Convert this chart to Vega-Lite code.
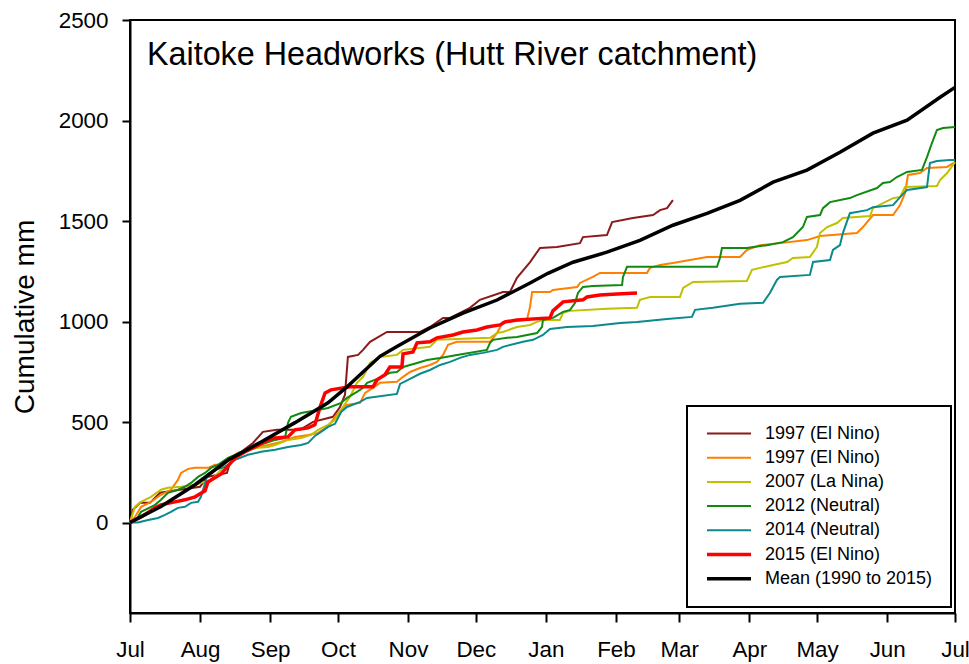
{
"$schema":"https://vega.github.io/schema/vega-lite/v6.json",
"width":825,"height":593,
"autosize":{"type":"none"},
"padding":{"left":130,"top":20,"right":14,"bottom":51},
"background":"white",
"title":{"text":"Kaitoke Headworks (Hutt River catchment)","anchor":"start","frame":"group","orient":"top","offset":-32,"dx":17,"dy":56,"baseline":"alphabetic","font":"Liberation Sans","fontSize":32.3,"fontWeight":"normal","color":"black"},
"config":{
 "view":{"stroke":"black","strokeWidth":2},
 "font":"Liberation Sans",
 "axis":{"domainColor":"black","domainWidth":2,"tickColor":"black","tickWidth":2,"labelColor":"black","labelFont":"Liberation Sans","labelFontSize":22.4,"grid":false,"titleColor":"black","titleFont":"Liberation Sans","titleFontWeight":"normal"},
 "legend":{"labelFont":"Liberation Sans","labelFontSize":18,"labelColor":"black"}
},
"data":{"values":[
{"series":"1997 (El Nino)","day":0,"mm":0},{"series":"1997 (El Nino)","day":1.3,"mm":63},{"series":"1997 (El Nino)","day":4.4,"mm":98},{"series":"1997 (El Nino)","day":8.8,"mm":98},{"series":"1997 (El Nino)","day":13.3,"mm":148},{"series":"1997 (El Nino)","day":22.1,"mm":163},{"series":"1997 (El Nino)","day":31.0,"mm":178},{"series":"1997 (El Nino)","day":34.1,"mm":227},{"series":"1997 (El Nino)","day":42.9,"mm":247},{"series":"1997 (El Nino)","day":44.2,"mm":297},{"series":"1997 (El Nino)","day":48.7,"mm":347},{"series":"1997 (El Nino)","day":54.4,"mm":396},{"series":"1997 (El Nino)","day":58.8,"mm":451},{"series":"1997 (El Nino)","day":65.0,"mm":461},{"series":"1997 (El Nino)","day":75.2,"mm":461},{"series":"1997 (El Nino)","day":81.0,"mm":501},{"series":"1997 (El Nino)","day":89.8,"mm":526},{"series":"1997 (El Nino)","day":92.9,"mm":575},{"series":"1997 (El Nino)","day":95.1,"mm":635},{"series":"1997 (El Nino)","day":96.4,"mm":824},{"series":"1997 (El Nino)","day":100.9,"mm":834},{"series":"1997 (El Nino)","day":103.1,"mm":859},{"series":"1997 (El Nino)","day":106.2,"mm":899},{"series":"1997 (El Nino)","day":113.7,"mm":948},{"series":"1997 (El Nino)","day":128.3,"mm":948},{"series":"1997 (El Nino)","day":132.7,"mm":973},{"series":"1997 (El Nino)","day":138.5,"mm":1018},{"series":"1997 (El Nino)","day":141.6,"mm":1018},{"series":"1997 (El Nino)","day":150.4,"mm":1068},{"series":"1997 (El Nino)","day":154.8,"mm":1108},{"series":"1997 (El Nino)","day":165.0,"mm":1147},{"series":"1997 (El Nino)","day":168.1,"mm":1147},{"series":"1997 (El Nino)","day":171.2,"mm":1217},{"series":"1997 (El Nino)","day":177.0,"mm":1296},{"series":"1997 (El Nino)","day":181.4,"mm":1366},{"series":"1997 (El Nino)","day":188.9,"mm":1371},{"series":"1997 (El Nino)","day":199.1,"mm":1390},{"series":"1997 (El Nino)","day":200.4,"mm":1420},{"series":"1997 (El Nino)","day":211.0,"mm":1430},{"series":"1997 (El Nino)","day":213.3,"mm":1495},{"series":"1997 (El Nino)","day":222.5,"mm":1515},{"series":"1997 (El Nino)","day":231.4,"mm":1530},{"series":"1997 (El Nino)","day":234.5,"mm":1554},{"series":"1997 (El Nino)","day":237.6,"mm":1564},{"series":"1997 (El Nino)","day":240.2,"mm":1604},
{"series":"1997 (El Nino) b","day":0,"mm":0},{"series":"1997 (El Nino) b","day":2.2,"mm":28},{"series":"1997 (El Nino) b","day":4.9,"mm":78},{"series":"1997 (El Nino) b","day":9.3,"mm":103},{"series":"1997 (El Nino) b","day":13.7,"mm":138},{"series":"1997 (El Nino) b","day":18.1,"mm":163},{"series":"1997 (El Nino) b","day":21.2,"mm":212},{"series":"1997 (El Nino) b","day":22.6,"mm":247},{"series":"1997 (El Nino) b","day":25.7,"mm":267},{"series":"1997 (El Nino) b","day":28.8,"mm":272},{"series":"1997 (El Nino) b","day":34.5,"mm":272},{"series":"1997 (El Nino) b","day":37.6,"mm":287},{"series":"1997 (El Nino) b","day":42.0,"mm":287},{"series":"1997 (El Nino) b","day":43.4,"mm":312},{"series":"1997 (El Nino) b","day":47.8,"mm":347},{"series":"1997 (El Nino) b","day":55.3,"mm":371},{"series":"1997 (El Nino) b","day":61.1,"mm":386},{"series":"1997 (El Nino) b","day":66.8,"mm":401},{"series":"1997 (El Nino) b","day":73.0,"mm":426},{"series":"1997 (El Nino) b","day":78.8,"mm":436},{"series":"1997 (El Nino) b","day":83.2,"mm":446},{"series":"1997 (El Nino) b","day":87.6,"mm":476},{"series":"1997 (El Nino) b","day":90.7,"mm":526},{"series":"1997 (El Nino) b","day":93.4,"mm":560},{"series":"1997 (El Nino) b","day":95.6,"mm":585},{"series":"1997 (El Nino) b","day":101.8,"mm":595},{"series":"1997 (El Nino) b","day":104.0,"mm":645},{"series":"1997 (El Nino) b","day":107.5,"mm":670},{"series":"1997 (El Nino) b","day":110.6,"mm":695},{"series":"1997 (El Nino) b","day":118.1,"mm":700},{"series":"1997 (El Nino) b","day":120.8,"mm":725},{"series":"1997 (El Nino) b","day":123.9,"mm":749},{"series":"1997 (El Nino) b","day":128.3,"mm":769},{"series":"1997 (El Nino) b","day":132.7,"mm":784},{"series":"1997 (El Nino) b","day":135.8,"mm":799},{"series":"1997 (El Nino) b","day":138.5,"mm":834},{"series":"1997 (El Nino) b","day":140.7,"mm":884},{"series":"1997 (El Nino) b","day":144.7,"mm":899},{"series":"1997 (El Nino) b","day":159.3,"mm":899},{"series":"1997 (El Nino) b","day":162.4,"mm":943},{"series":"1997 (El Nino) b","day":165.0,"mm":998},{"series":"1997 (El Nino) b","day":175.6,"mm":1008},{"series":"1997 (El Nino) b","day":177.0,"mm":1073},{"series":"1997 (El Nino) b","day":177.9,"mm":1147},{"series":"1997 (El Nino) b","day":185.8,"mm":1147},{"series":"1997 (El Nino) b","day":187.1,"mm":1157},{"series":"1997 (El Nino) b","day":197.8,"mm":1172},{"series":"1997 (El Nino) b","day":199.1,"mm":1192},{"series":"1997 (El Nino) b","day":204.8,"mm":1222},{"series":"1997 (El Nino) b","day":207.9,"mm":1242},{"series":"1997 (El Nino) b","day":228.7,"mm":1242},{"series":"1997 (El Nino) b","day":230.1,"mm":1267},{"series":"1997 (El Nino) b","day":234.5,"mm":1281},{"series":"1997 (El Nino) b","day":240.2,"mm":1291},{"series":"1997 (El Nino) b","day":255.3,"mm":1321},{"series":"1997 (El Nino) b","day":269.9,"mm":1321},{"series":"1997 (El Nino) b","day":272.9,"mm":1356},{"series":"1997 (El Nino) b","day":278.7,"mm":1380},{"series":"1997 (El Nino) b","day":287.6,"mm":1390},{"series":"1997 (El Nino) b","day":299.5,"mm":1405},{"series":"1997 (El Nino) b","day":305.3,"mm":1425},{"series":"1997 (El Nino) b","day":321.6,"mm":1440},{"series":"1997 (El Nino) b","day":324.3,"mm":1470},{"series":"1997 (El Nino) b","day":326.1,"mm":1495},{"series":"1997 (El Nino) b","day":328.7,"mm":1530},{"series":"1997 (El Nino) b","day":337.6,"mm":1530},{"series":"1997 (El Nino) b","day":340.7,"mm":1579},{"series":"1997 (El Nino) b","day":342.9,"mm":1639},{"series":"1997 (El Nino) b","day":344.2,"mm":1729},{"series":"1997 (El Nino) b","day":349.5,"mm":1739},{"series":"1997 (El Nino) b","day":352.6,"mm":1764},{"series":"1997 (El Nino) b","day":361.5,"mm":1769},{"series":"1997 (El Nino) b","day":365,"mm":1793},
{"series":"2007 (La Nina)","day":0,"mm":0},{"series":"2007 (La Nina)","day":1.3,"mm":48},{"series":"2007 (La Nina)","day":2.2,"mm":78},{"series":"2007 (La Nina)","day":4.9,"mm":103},{"series":"2007 (La Nina)","day":9.3,"mm":128},{"series":"2007 (La Nina)","day":13.7,"mm":163},{"series":"2007 (La Nina)","day":16.8,"mm":173},{"series":"2007 (La Nina)","day":22.6,"mm":178},{"series":"2007 (La Nina)","day":28.8,"mm":188},{"series":"2007 (La Nina)","day":35.8,"mm":212},{"series":"2007 (La Nina)","day":40.3,"mm":262},{"series":"2007 (La Nina)","day":43.4,"mm":322},{"series":"2007 (La Nina)","day":47.8,"mm":337},{"series":"2007 (La Nina)","day":55.3,"mm":371},{"series":"2007 (La Nina)","day":61.1,"mm":376},{"series":"2007 (La Nina)","day":64.2,"mm":386},{"series":"2007 (La Nina)","day":69.9,"mm":411},{"series":"2007 (La Nina)","day":75.7,"mm":421},{"series":"2007 (La Nina)","day":80.1,"mm":436},{"series":"2007 (La Nina)","day":83.2,"mm":461},{"series":"2007 (La Nina)","day":87.6,"mm":486},{"series":"2007 (La Nina)","day":90.7,"mm":511},{"series":"2007 (La Nina)","day":94.2,"mm":575},{"series":"2007 (La Nina)","day":97.3,"mm":625},{"series":"2007 (La Nina)","day":100.4,"mm":695},{"series":"2007 (La Nina)","day":103.1,"mm":725},{"series":"2007 (La Nina)","day":106.2,"mm":794},{"series":"2007 (La Nina)","day":110.6,"mm":824},{"series":"2007 (La Nina)","day":118.1,"mm":834},{"series":"2007 (La Nina)","day":120.8,"mm":859},{"series":"2007 (La Nina)","day":132.7,"mm":874},{"series":"2007 (La Nina)","day":135.8,"mm":909},{"series":"2007 (La Nina)","day":159.3,"mm":919},{"series":"2007 (La Nina)","day":162.4,"mm":943},{"series":"2007 (La Nina)","day":165.0,"mm":948},{"series":"2007 (La Nina)","day":171.2,"mm":973},{"series":"2007 (La Nina)","day":177.0,"mm":983},{"series":"2007 (La Nina)","day":180.1,"mm":998},{"series":"2007 (La Nina)","day":182.7,"mm":1008},{"series":"2007 (La Nina)","day":190.2,"mm":1008},{"series":"2007 (La Nina)","day":191.6,"mm":1043},{"series":"2007 (La Nina)","day":194.7,"mm":1053},{"series":"2007 (La Nina)","day":211.0,"mm":1063},{"series":"2007 (La Nina)","day":224.3,"mm":1068},{"series":"2007 (La Nina)","day":225.6,"mm":1108},{"series":"2007 (La Nina)","day":230.1,"mm":1122},{"series":"2007 (La Nina)","day":243.3,"mm":1122},{"series":"2007 (La Nina)","day":244.7,"mm":1167},{"series":"2007 (La Nina)","day":249.1,"mm":1197},{"series":"2007 (La Nina)","day":272.9,"mm":1202},{"series":"2007 (La Nina)","day":275.2,"mm":1257},{"series":"2007 (La Nina)","day":278.7,"mm":1267},{"series":"2007 (La Nina)","day":284.5,"mm":1281},{"series":"2007 (La Nina)","day":290.7,"mm":1296},{"series":"2007 (La Nina)","day":293.3,"mm":1316},{"series":"2007 (La Nina)","day":300.8,"mm":1321},{"series":"2007 (La Nina)","day":303.9,"mm":1371},{"series":"2007 (La Nina)","day":305.3,"mm":1440},{"series":"2007 (La Nina)","day":308.4,"mm":1470},{"series":"2007 (La Nina)","day":312.8,"mm":1490},{"series":"2007 (La Nina)","day":315.4,"mm":1515},{"series":"2007 (La Nina)","day":327.4,"mm":1525},{"series":"2007 (La Nina)","day":328.7,"mm":1564},{"series":"2007 (La Nina)","day":337.6,"mm":1614},{"series":"2007 (La Nina)","day":340.7,"mm":1619},{"series":"2007 (La Nina)","day":342.9,"mm":1669},{"series":"2007 (La Nina)","day":357.0,"mm":1674},{"series":"2007 (La Nina)","day":358.4,"mm":1704},{"series":"2007 (La Nina)","day":361.5,"mm":1739},{"series":"2007 (La Nina)","day":365,"mm":1793},
{"series":"2012 (Neutral)","day":0,"mm":0},{"series":"2012 (Neutral)","day":2.7,"mm":13},{"series":"2012 (Neutral)","day":4.9,"mm":53},{"series":"2012 (Neutral)","day":11.1,"mm":88},{"series":"2012 (Neutral)","day":13.7,"mm":113},{"series":"2012 (Neutral)","day":16.8,"mm":148},{"series":"2012 (Neutral)","day":21.2,"mm":163},{"series":"2012 (Neutral)","day":24.3,"mm":178},{"series":"2012 (Neutral)","day":27.0,"mm":197},{"series":"2012 (Neutral)","day":30.1,"mm":227},{"series":"2012 (Neutral)","day":33.2,"mm":247},{"series":"2012 (Neutral)","day":35.8,"mm":272},{"series":"2012 (Neutral)","day":38.9,"mm":287},{"series":"2012 (Neutral)","day":43.4,"mm":322},{"series":"2012 (Neutral)","day":53.5,"mm":371},{"series":"2012 (Neutral)","day":64.2,"mm":411},{"series":"2012 (Neutral)","day":68.6,"mm":421},{"series":"2012 (Neutral)","day":69.9,"mm":496},{"series":"2012 (Neutral)","day":71.2,"mm":526},{"series":"2012 (Neutral)","day":75.7,"mm":545},{"series":"2012 (Neutral)","day":83.2,"mm":560},{"series":"2012 (Neutral)","day":87.6,"mm":570},{"series":"2012 (Neutral)","day":93.4,"mm":595},{"series":"2012 (Neutral)","day":96.0,"mm":620},{"series":"2012 (Neutral)","day":100.4,"mm":650},{"series":"2012 (Neutral)","day":103.1,"mm":670},{"series":"2012 (Neutral)","day":104.9,"mm":695},{"series":"2012 (Neutral)","day":110.6,"mm":720},{"series":"2012 (Neutral)","day":115.0,"mm":745},{"series":"2012 (Neutral)","day":118.1,"mm":749},{"series":"2012 (Neutral)","day":120.8,"mm":774},{"series":"2012 (Neutral)","day":127.0,"mm":794},{"series":"2012 (Neutral)","day":131.4,"mm":809},{"series":"2012 (Neutral)","day":137.2,"mm":819},{"series":"2012 (Neutral)","day":144.7,"mm":834},{"series":"2012 (Neutral)","day":157.9,"mm":859},{"series":"2012 (Neutral)","day":159.3,"mm":894},{"series":"2012 (Neutral)","day":160.6,"mm":909},{"series":"2012 (Neutral)","day":166.8,"mm":919},{"series":"2012 (Neutral)","day":171.2,"mm":923},{"series":"2012 (Neutral)","day":180.1,"mm":943},{"series":"2012 (Neutral)","day":182.3,"mm":973},{"series":"2012 (Neutral)","day":182.7,"mm":1008},{"series":"2012 (Neutral)","day":187.1,"mm":1018},{"series":"2012 (Neutral)","day":191.6,"mm":1048},{"series":"2012 (Neutral)","day":194.7,"mm":1058},{"series":"2012 (Neutral)","day":196.9,"mm":1093},{"series":"2012 (Neutral)","day":198.2,"mm":1142},{"series":"2012 (Neutral)","day":200.4,"mm":1172},{"series":"2012 (Neutral)","day":204.8,"mm":1177},{"series":"2012 (Neutral)","day":217.7,"mm":1182},{"series":"2012 (Neutral)","day":218.1,"mm":1222},{"series":"2012 (Neutral)","day":219.9,"mm":1272},{"series":"2012 (Neutral)","day":259.7,"mm":1272},{"series":"2012 (Neutral)","day":261.0,"mm":1316},{"series":"2012 (Neutral)","day":261.9,"mm":1366},{"series":"2012 (Neutral)","day":272.9,"mm":1366},{"series":"2012 (Neutral)","day":281.8,"mm":1380},{"series":"2012 (Neutral)","day":288.9,"mm":1395},{"series":"2012 (Neutral)","day":293.3,"mm":1420},{"series":"2012 (Neutral)","day":297.7,"mm":1470},{"series":"2012 (Neutral)","day":299.5,"mm":1520},{"series":"2012 (Neutral)","day":305.3,"mm":1530},{"series":"2012 (Neutral)","day":306.6,"mm":1564},{"series":"2012 (Neutral)","day":309.7,"mm":1594},{"series":"2012 (Neutral)","day":318.5,"mm":1614},{"series":"2012 (Neutral)","day":321.6,"mm":1629},{"series":"2012 (Neutral)","day":330.5,"mm":1664},{"series":"2012 (Neutral)","day":333.1,"mm":1689},{"series":"2012 (Neutral)","day":336.2,"mm":1694},{"series":"2012 (Neutral)","day":339.3,"mm":1719},{"series":"2012 (Neutral)","day":343.8,"mm":1744},{"series":"2012 (Neutral)","day":350.4,"mm":1754},{"series":"2012 (Neutral)","day":352.6,"mm":1818},{"series":"2012 (Neutral)","day":354.8,"mm":1888},{"series":"2012 (Neutral)","day":357.0,"mm":1953},{"series":"2012 (Neutral)","day":359.7,"mm":1963},{"series":"2012 (Neutral)","day":365,"mm":1968},
{"series":"2014 (Neutral)","day":0,"mm":0},{"series":"2014 (Neutral)","day":3.5,"mm":0},{"series":"2014 (Neutral)","day":8.0,"mm":13},{"series":"2014 (Neutral)","day":12.4,"mm":23},{"series":"2014 (Neutral)","day":15.5,"mm":38},{"series":"2014 (Neutral)","day":18.1,"mm":53},{"series":"2014 (Neutral)","day":21.2,"mm":73},{"series":"2014 (Neutral)","day":24.3,"mm":78},{"series":"2014 (Neutral)","day":27.0,"mm":98},{"series":"2014 (Neutral)","day":30.1,"mm":103},{"series":"2014 (Neutral)","day":31.4,"mm":128},{"series":"2014 (Neutral)","day":33.2,"mm":197},{"series":"2014 (Neutral)","day":34.5,"mm":242},{"series":"2014 (Neutral)","day":37.6,"mm":262},{"series":"2014 (Neutral)","day":42.0,"mm":277},{"series":"2014 (Neutral)","day":46.5,"mm":312},{"series":"2014 (Neutral)","day":52.2,"mm":337},{"series":"2014 (Neutral)","day":58.0,"mm":352},{"series":"2014 (Neutral)","day":64.2,"mm":362},{"series":"2014 (Neutral)","day":69.9,"mm":376},{"series":"2014 (Neutral)","day":75.7,"mm":386},{"series":"2014 (Neutral)","day":78.8,"mm":396},{"series":"2014 (Neutral)","day":81.8,"mm":431},{"series":"2014 (Neutral)","day":84.5,"mm":451},{"series":"2014 (Neutral)","day":87.6,"mm":476},{"series":"2014 (Neutral)","day":90.7,"mm":491},{"series":"2014 (Neutral)","day":93.4,"mm":550},{"series":"2014 (Neutral)","day":96.0,"mm":575},{"series":"2014 (Neutral)","day":101.8,"mm":600},{"series":"2014 (Neutral)","day":104.9,"mm":620},{"series":"2014 (Neutral)","day":118.1,"mm":640},{"series":"2014 (Neutral)","day":119.5,"mm":690},{"series":"2014 (Neutral)","day":123.9,"mm":715},{"series":"2014 (Neutral)","day":128.3,"mm":740},{"series":"2014 (Neutral)","day":132.7,"mm":759},{"series":"2014 (Neutral)","day":137.2,"mm":784},{"series":"2014 (Neutral)","day":141.6,"mm":799},{"series":"2014 (Neutral)","day":146.0,"mm":819},{"series":"2014 (Neutral)","day":150.4,"mm":834},{"series":"2014 (Neutral)","day":156.2,"mm":844},{"series":"2014 (Neutral)","day":162.4,"mm":859},{"series":"2014 (Neutral)","day":165.0,"mm":874},{"series":"2014 (Neutral)","day":173.9,"mm":899},{"series":"2014 (Neutral)","day":178.3,"mm":909},{"series":"2014 (Neutral)","day":182.7,"mm":933},{"series":"2014 (Neutral)","day":185.8,"mm":963},{"series":"2014 (Neutral)","day":193.3,"mm":973},{"series":"2014 (Neutral)","day":204.8,"mm":978},{"series":"2014 (Neutral)","day":216.8,"mm":993},{"series":"2014 (Neutral)","day":224.3,"mm":998},{"series":"2014 (Neutral)","day":237.6,"mm":1013},{"series":"2014 (Neutral)","day":248.6,"mm":1023},{"series":"2014 (Neutral)","day":250.0,"mm":1058},{"series":"2014 (Neutral)","day":257.9,"mm":1068},{"series":"2014 (Neutral)","day":269.9,"mm":1088},{"series":"2014 (Neutral)","day":280.1,"mm":1093},{"series":"2014 (Neutral)","day":283.1,"mm":1142},{"series":"2014 (Neutral)","day":286.2,"mm":1207},{"series":"2014 (Neutral)","day":287.6,"mm":1222},{"series":"2014 (Neutral)","day":300.8,"mm":1232},{"series":"2014 (Neutral)","day":302.2,"mm":1296},{"series":"2014 (Neutral)","day":309.7,"mm":1306},{"series":"2014 (Neutral)","day":311.0,"mm":1356},{"series":"2014 (Neutral)","day":314.1,"mm":1380},{"series":"2014 (Neutral)","day":315.4,"mm":1440},{"series":"2014 (Neutral)","day":318.5,"mm":1539},{"series":"2014 (Neutral)","day":326.1,"mm":1554},{"series":"2014 (Neutral)","day":328.7,"mm":1569},{"series":"2014 (Neutral)","day":337.6,"mm":1579},{"series":"2014 (Neutral)","day":340.7,"mm":1619},{"series":"2014 (Neutral)","day":343.8,"mm":1654},{"series":"2014 (Neutral)","day":352.6,"mm":1669},{"series":"2014 (Neutral)","day":353.9,"mm":1788},{"series":"2014 (Neutral)","day":357.0,"mm":1798},{"series":"2014 (Neutral)","day":362.8,"mm":1803},{"series":"2014 (Neutral)","day":365,"mm":1803},
{"series":"2015 (El Nino)","day":0,"mm":0},{"series":"2015 (El Nino)","day":4.9,"mm":28},{"series":"2015 (El Nino)","day":11.1,"mm":73},{"series":"2015 (El Nino)","day":13.7,"mm":88},{"series":"2015 (El Nino)","day":19.9,"mm":103},{"series":"2015 (El Nino)","day":24.3,"mm":113},{"series":"2015 (El Nino)","day":28.8,"mm":128},{"series":"2015 (El Nino)","day":33.2,"mm":158},{"series":"2015 (El Nino)","day":34.5,"mm":202},{"series":"2015 (El Nino)","day":40.3,"mm":242},{"series":"2015 (El Nino)","day":43.4,"mm":282},{"series":"2015 (El Nino)","day":46.5,"mm":322},{"series":"2015 (El Nino)","day":50.9,"mm":352},{"series":"2015 (El Nino)","day":55.3,"mm":376},{"series":"2015 (El Nino)","day":61.1,"mm":411},{"series":"2015 (El Nino)","day":64.2,"mm":421},{"series":"2015 (El Nino)","day":69.9,"mm":426},{"series":"2015 (El Nino)","day":73.0,"mm":461},{"series":"2015 (El Nino)","day":78.8,"mm":471},{"series":"2015 (El Nino)","day":81.8,"mm":486},{"series":"2015 (El Nino)","day":84.1,"mm":575},{"series":"2015 (El Nino)","day":86.3,"mm":645},{"series":"2015 (El Nino)","day":88.9,"mm":660},{"series":"2015 (El Nino)","day":97.3,"mm":675},{"series":"2015 (El Nino)","day":107.5,"mm":675},{"series":"2015 (El Nino)","day":109.3,"mm":710},{"series":"2015 (El Nino)","day":112.8,"mm":735},{"series":"2015 (El Nino)","day":115.0,"mm":774},{"series":"2015 (El Nino)","day":120.3,"mm":774},{"series":"2015 (El Nino)","day":120.8,"mm":839},{"series":"2015 (El Nino)","day":125.2,"mm":849},{"series":"2015 (El Nino)","day":127.0,"mm":894},{"series":"2015 (El Nino)","day":132.7,"mm":899},{"series":"2015 (El Nino)","day":135.8,"mm":919},{"series":"2015 (El Nino)","day":142.9,"mm":933},{"series":"2015 (El Nino)","day":147.3,"mm":948},{"series":"2015 (El Nino)","day":153.5,"mm":958},{"series":"2015 (El Nino)","day":157.9,"mm":973},{"series":"2015 (El Nino)","day":163.7,"mm":983},{"series":"2015 (El Nino)","day":165.9,"mm":998},{"series":"2015 (El Nino)","day":171.2,"mm":1008},{"series":"2015 (El Nino)","day":185.8,"mm":1018},{"series":"2015 (El Nino)","day":187.1,"mm":1053},{"series":"2015 (El Nino)","day":191.6,"mm":1098},{"series":"2015 (El Nino)","day":200.4,"mm":1108},{"series":"2015 (El Nino)","day":202.2,"mm":1122},{"series":"2015 (El Nino)","day":207.9,"mm":1132},{"series":"2015 (El Nino)","day":215.5,"mm":1137},{"series":"2015 (El Nino)","day":224.3,"mm":1142},
{"series":"Mean (1990 to 2015)","day":0,"mm":0},{"series":"Mean (1990 to 2015)","day":13.7,"mm":80},{"series":"Mean (1990 to 2015)","day":28.8,"mm":188},{"series":"Mean (1990 to 2015)","day":43.4,"mm":311},{"series":"Mean (1990 to 2015)","day":58.0,"mm":401},{"series":"Mean (1990 to 2015)","day":73.0,"mm":497},{"series":"Mean (1990 to 2015)","day":87.6,"mm":596},{"series":"Mean (1990 to 2015)","day":95.6,"mm":671},{"series":"Mean (1990 to 2015)","day":103.1,"mm":749},{"series":"Mean (1990 to 2015)","day":110.6,"mm":827},{"series":"Mean (1990 to 2015)","day":118.1,"mm":876},{"series":"Mean (1990 to 2015)","day":132.7,"mm":968},{"series":"Mean (1990 to 2015)","day":147.3,"mm":1042},{"series":"Mean (1990 to 2015)","day":162.4,"mm":1107},{"series":"Mean (1990 to 2015)","day":177.0,"mm":1192},{"series":"Mean (1990 to 2015)","day":184.9,"mm":1240},{"series":"Mean (1990 to 2015)","day":196.0,"mm":1295},{"series":"Mean (1990 to 2015)","day":211.0,"mm":1345},{"series":"Mean (1990 to 2015)","day":225.6,"mm":1404},{"series":"Mean (1990 to 2015)","day":240.2,"mm":1479},{"series":"Mean (1990 to 2015)","day":255.3,"mm":1538},{"series":"Mean (1990 to 2015)","day":269.9,"mm":1603},{"series":"Mean (1990 to 2015)","day":284.5,"mm":1693},{"series":"Mean (1990 to 2015)","day":299.5,"mm":1753},{"series":"Mean (1990 to 2015)","day":314.1,"mm":1842},{"series":"Mean (1990 to 2015)","day":328.7,"mm":1937},{"series":"Mean (1990 to 2015)","day":343.8,"mm":2002},{"series":"Mean (1990 to 2015)","day":358.4,"mm":2116},{"series":"Mean (1990 to 2015)","day":365,"mm":2165}
]},
"mark":{"type":"line","interpolate":"linear"},
"encoding":{
 "x":{"field":"day","type":"quantitative","scale":{"domain":[0,365],"nice":false,"zero":false},
  "axis":{"title":null,"values":[0,31,62,92,123,153,184,215,243,274,304,335,365],"labelExpr":"datum.value < 15 ? 'Jul' : datum.value < 45 ? 'Aug' : datum.value < 75 ? 'Sep' : datum.value < 105 ? 'Oct' : datum.value < 135 ? 'Nov' : datum.value < 165 ? 'Dec' : datum.value < 195 ? 'Jan' : datum.value < 225 ? 'Feb' : datum.value < 255 ? 'Mar' : datum.value < 285 ? 'Apr' : datum.value < 315 ? 'May' : datum.value < 345 ? 'Jun' : 'Jul'","tickSize":9,"labelPadding":16,"labelFlush":false,"labelOverlap":false,"labelDx":-6.5}},
 "y":{"field":"mm","type":"quantitative","scale":{"domain":[-450,2500],"nice":false,"zero":false},
  "axis":{"title":"Cumulative mm","values":[0,500,1000,1500,2000,2500],"format":"d","tickSize":8,"labelPadding":14,"labelFlush":false,"labelOverlap":false,"titleFontSize":28,"titleX":-97,"titleY":296.5,"titleAngle":270,"titleBaseline":"alphabetic","titleAlign":"center"}},
 "color":{"field":"series","type":"nominal",
  "scale":{"domain":["1997 (El Nino)","1997 (El Nino) b","2007 (La Nina)","2012 (Neutral)","2014 (Neutral)","2015 (El Nino)","Mean (1990 to 2015)"],"range":["#8b1a1a","#ff8000","#c0c000","#108a10","#0a8a8c","#ff0000","#000000"]},
  "legend":{"title":null,"orient":"none","legendX":557,"legendY":386,"strokeColor":"black","fillColor":"white","padding":18.5,"symbolType":"M-4.4,0H4.4","symbolSize":100,"symbolOffset":14.5,"labelOffset":27,"labelLimit":400,"rowPadding":6.2,"labelExpr":"substring(datum.label, 0, 14) == '1997 (El Nino)' ? '1997 (El Nino)' : datum.label",
   "encode":{"legend":{"update":{"strokeWidth":{"value":2}}},"symbols":{"update":{"strokeWidth":{"signal":"datum.value == '2015 (El Nino)' || datum.value == 'Mean (1990 to 2015)' ? 3.5 : 2"}}}}}},
 "strokeWidth":{"field":"series","type":"nominal",
  "scale":{"type":"ordinal","domain":["1997 (El Nino)","1997 (El Nino) b","2007 (La Nina)","2012 (Neutral)","2014 (Neutral)","2015 (El Nino)","Mean (1990 to 2015)"],"range":[2,2,2,2,2,3.5,3.5]},
  "legend":null}
}
}
